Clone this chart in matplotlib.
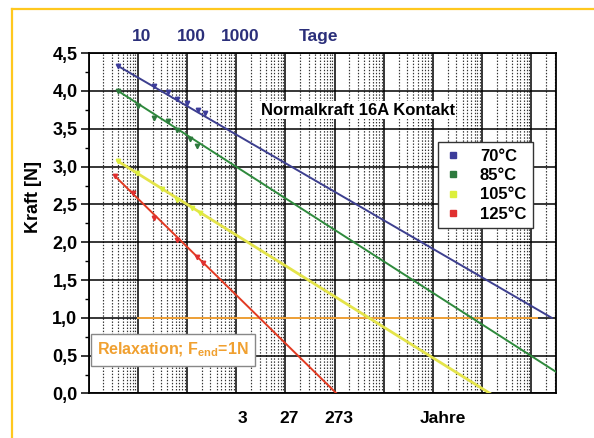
import matplotlib
matplotlib.use("Agg")
import matplotlib.pyplot as plt
from matplotlib import font_manager
from matplotlib.lines import Line2D
from matplotlib.ticker import LogLocator, NullFormatter, FixedLocator
import matplotlib.transforms as mtransforms

# Messwerte (Tage, Kraft in N)
days_70 = [4, 21, 42, 62, 100, 170, 234]
force_70 = [4.33, 4.06, 3.98, 3.89, 3.84, 3.75, 3.71]
days_85 = [4, 10, 21, 42, 62, 115, 158]
force_85 = [4.00, 3.80, 3.64, 3.60, 3.49, 3.36, 3.27]
days_105 = [4, 9.5, 31, 62, 126, 186]
force_105 = [3.07, 2.92, 2.70, 2.56, 2.45, 2.39]
days_125 = [3.5, 8, 21, 62, 158, 214]
force_125 = [2.87, 2.65, 2.32, 2.03, 1.81, 1.72]

# Extrapolierte Geraden (Anfang, Ende)
fit_days_70 = [4, 2.6e9]
fit_force_70 = [4.33, 1.0]
fit_days_85 = [4, 3.1e9]
fit_force_85 = [4.00, 0.29]
fit_days_105 = [4, 1.45e8]
fit_force_105 = [3.07, 0.0]
fit_days_125 = [3.5, 1.1e5]
fit_force_125 = [2.87, 0.0]

limit_days = [10, 1.3e9]
limit_force = 1.0

labels = ["70°C", "85°C", "105°C", "125°C"]
line_colors = ["#3d3f8f", "#2e8a3c", "#e4e44a", "#e23a22"]
marker_colors = ["#3c3c9a", "#2e7a3e", "#dcef3c", "#e03030"]

y_ticks = [0.0, 0.5, 1.0, 1.5, 2.0, 2.5, 3.0, 3.5, 4.0, 4.5]
y_ticklabels = ["0,0", "0,5", "1,0", "1,5", "2,0", "2,5", "3,0", "3,5", "4,0", "4,5"]
top_days = [10, 100, 1000]
top_labels = ["10", "100", "1000"]
bottom_years = [3, 27, 273]

names = {f.name for f in font_manager.fontManager.ttflist}
FONT = "Liberation Sans Narrow" if "Liberation Sans Narrow" in names else "Liberation Sans"
plt.rcParams["font.family"] = [FONT, "DejaVu Sans"]

fig = plt.figure(figsize=(5.94, 4.38), dpi=100)
ax = fig.add_axes([0.149, 0.1016, 0.787, 0.777])
ax.set_xscale("log")
ax.set_xlim(1, 10 ** 9.5)
ax.set_ylim(0, 4.5)

# Gitter: Dekaden + 0,5 N durchgezogen, Zwischenwerte punktiert
ax.xaxis.set_major_locator(LogLocator(base=10, numticks=20))
ax.xaxis.set_minor_locator(LogLocator(base=10, subs=range(2, 10), numticks=20))
ax.xaxis.set_major_formatter(NullFormatter())
ax.xaxis.set_minor_formatter(NullFormatter())
ax.grid(True, which="major", axis="both", color="black", lw=1.1)
ax.grid(True, which="minor", axis="x", color="#333333", lw=0.85, ls=(0, (1.2, 1.4)))
ax.tick_params(axis="x", which="both", length=0)
ax.set_axisbelow(True)

ax.yaxis.set_major_locator(FixedLocator(y_ticks))
ax.set_yticklabels(y_ticklabels)
ax.yaxis.set_minor_locator(FixedLocator([v + 0.25 for v in y_ticks[:-1]]))
ax.tick_params(axis="y", which="major", length=6, width=1.1, labelsize=13, pad=2)
ax.tick_params(axis="y", which="minor", length=3, width=1.0)
for lab in ax.get_yticklabels():
    lab.set_fontweight("bold")
for sp in ax.spines.values():
    sp.set_linewidth(1.3)

series = [
    (days_70, force_70, fit_days_70, fit_force_70),
    (days_85, force_85, fit_days_85, fit_force_85),
    (days_105, force_105, fit_days_105, fit_force_105),
    (days_125, force_125, fit_days_125, fit_force_125),
]
for (d, f, fd, ff), lc, mc in zip(series, line_colors, marker_colors):
    lw = 2.0 if lc == "#e4e44a" else 1.4
    ax.plot(fd, ff, color=lc, lw=lw, zorder=3)
    ax.plot(d, f, ls="none", marker="v", ms=3.2, color=mc, zorder=4)

ax.plot(limit_days, [limit_force, limit_force], color="#f3a43a", lw=1.4, zorder=2.5)

ax.set_ylabel("Kraft [N]", fontsize=13, fontweight="bold")
ax.yaxis.set_label_coords(-0.10, 0.577)

ax.text(0.576, 0.833, "Normalkraft 16A Kontakt", transform=ax.transAxes,
        ha="center", va="center", fontsize=12, fontweight="bold",
        bbox=dict(facecolor="white", edgecolor="none", pad=1), zorder=5)

ax.text(0.181, 0.128, "Relaxation; F$_{\\mathregular{end}}$=1N", transform=ax.transAxes,
        ha="center", va="center", fontsize=11.5, fontweight="bold", color="#f0a030",
        bbox=dict(facecolor="white", edgecolor="#888888", lw=1.0,
                  boxstyle="square,pad=0.4"), zorder=5)

handles = [Line2D([], [], ls="none", marker="s", ms=4, color=c) for c in marker_colors]
leg = ax.legend(handles, labels, loc="upper left", bbox_to_anchor=(0.748, 0.738),
                borderaxespad=0, frameon=True, fancybox=False, framealpha=1,
                edgecolor="#333333", prop=dict(family=[FONT, "DejaVu Sans"], size=12, weight="bold"),
                handlelength=1.0, handletextpad=1.1, labelspacing=0.25, borderpad=0.4)
leg.get_frame().set_linewidth(1.0)
leg.set_zorder(6)

# Obere Achse: Tage, untere: Jahre
off = mtransforms.ScaledTranslation(4 / 100, 0, fig.dpi_scale_trans)
top_tr = mtransforms.blended_transform_factory(ax.transData, ax.transAxes) + off
for d, t in zip(top_days, top_labels):
    ax.text(d, 1.05, t, transform=top_tr, ha="center", va="center",
            fontsize=12.5, fontweight="bold", color="#2b2f7a")
ax.text(0.491, 1.05, "Tage", transform=ax.transAxes, ha="center", va="center",
        fontsize=12.5, fontweight="bold", color="#2b2f7a")
for y in bottom_years:
    ax.text(y * 365.25, -0.072, str(y), transform=top_tr, ha="center", va="center",
            fontsize=12.5, fontweight="bold")
ax.text(0.759, -0.072, "Jahre", transform=ax.transAxes, ha="center", va="center",
        fontsize=12.5, fontweight="bold")

# goldener Rahmen oben und links
gold = "#ffc81e"
fig.add_artist(Line2D([12 / 594, 1], [1 - 9 / 438, 1 - 9 / 438], transform=fig.transFigure,
                      color=gold, lw=1.6))
fig.add_artist(Line2D([12 / 594, 12 / 594], [0, 1 - 9 / 438], transform=fig.transFigure,
                      color=gold, lw=1.6))

fig.savefig("out.png", dpi=100)
